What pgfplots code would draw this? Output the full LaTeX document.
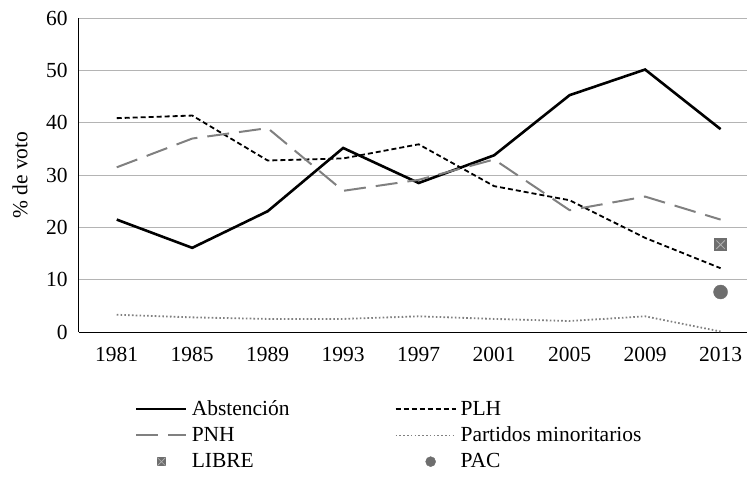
\documentclass[border=0pt]{standalone}
\usepackage{pgfplots}
\pgfplotsset{compat=1.18}
\usepackage{fontspec}
\setmainfont{Liberation Serif}
\definecolor{pnh}{RGB}{128,128,128}
\definecolor{mk}{RGB}{110,110,110}
\definecolor{grd}{RGB}{180,180,180}
\newcommand{\fs}{\fontsize{21.5bp}{25bp}\selectfont}
\pgfplotsset{longimg/.style={legend image code/.code={\draw[##1] (0bp,0bp) -- (60bp,0bp);}}}
\begin{document}
\fs
\begin{tikzpicture}
\begin{axis}[
  at={(0,0)}, anchor=south west,
  scale only axis, width=668bp, height=313.7bp,
  xmin=-0.5, xmax=8.35, ymin=0, ymax=60,
  xtick={0,1,2,3,4,5,6,7,8},
  xticklabels={1981,1985,1989,1993,1997,2001,2005,2009,2013},
  ytick={0,10,20,30,40,50,60},
  axis lines*=left,
  axis line style={black, line width=1bp},
  ymajorgrids, grid style={grd, line width=1bp},
  major tick length=0pt,
  /pgf/number format/assume math mode=true,
  tick label style={font=\fs},
  xticklabel style={yshift=-8bp},
  yticklabel style={xshift=-4bp},
  ylabel={\% de voto},
  ylabel style={font=\fs, yshift=4bp},
  clip=false,
  legend columns=2,
  legend cell align=left,
  legend style={at={(0.0793,-0.21)}, anchor=north west, draw=none, fill=none,
    font=\fs, row sep=8bp, column sep=4bp, nodes={inner sep=0pt},
    /tikz/every even column/.append style={column sep=13bp, text height=15bp, text depth=5bp}},
  legend image code/.code={\draw[#1] (0bp,0bp) -- (50bp,0bp);},
]
\addplot[black, line width=2.6bp] coordinates {
 (0,21.5) (1,16.1) (2,23.1) (3,35.2) (4,28.5) (5,33.8) (6,45.3) (7,50.2) (8,38.8)};
\addlegendentry{\makebox[190bp][l]{Abstención}}
\addplot[black, line width=1.8bp, dash pattern=on 5bp off 3bp, longimg] coordinates {
 (0,40.9) (1,41.4) (2,32.8) (3,33.2) (4,35.9) (5,27.9) (6,25.2) (7,18.0) (8,12.2)};
\addlegendentry{PLH}
\addplot[pnh, line width=2bp, dash pattern=on 22bp off 10bp] coordinates {
 (0,31.5) (1,37.0) (2,39.0) (3,27.0) (4,29.1) (5,33.0) (6,23.3) (7,25.9) (8,21.5)};
\addlegendentry{\makebox[190bp][l]{PNH}}
\addplot[pnh, line width=1.8bp, dash pattern=on 1.6bp off 2.2bp, longimg] coordinates {
 (0,3.3) (1,2.8) (2,2.5) (3,2.5) (4,3.0) (5,2.5) (6,2.1) (7,3.0) (8,0.1)};
\addlegendentry{Partidos minoritarios}
\addplot[only marks, mark=square*, mark size=6bp, mk,
  legend image code/.code={\path[draw=none, fill=none] (0bp,0bp) -- (50bp,0bp); \draw[mk, fill=mk] (21bp,-4bp) rectangle (29bp,4bp); \draw[gray!60, line width=0.6bp] (21bp,-4bp) -- (29bp,4bp) (21bp,4bp) -- (29bp,-4bp);}]
  coordinates {(8,16.7)};
\addlegendentry{\makebox[190bp][l]{LIBRE}}
\addplot[only marks, mark=*, mark size=7bp, mk,
  legend image code/.code={\path[draw=none, fill=none] (0bp,0bp) -- (60bp,0bp); \fill[mk] (35bp,0bp) circle (5bp);}]
  coordinates {(8,7.65)};
\addlegendentry{PAC}
\addplot[only marks, mark=x, mark size=6bp, gray!60, line width=0.8bp, forget plot]
  coordinates {(8,16.7)};
\end{axis}
\pgfresetboundingbox
\path (-79bp,-146bp) rectangle (668bp,332bp);
\end{tikzpicture}
\end{document}
